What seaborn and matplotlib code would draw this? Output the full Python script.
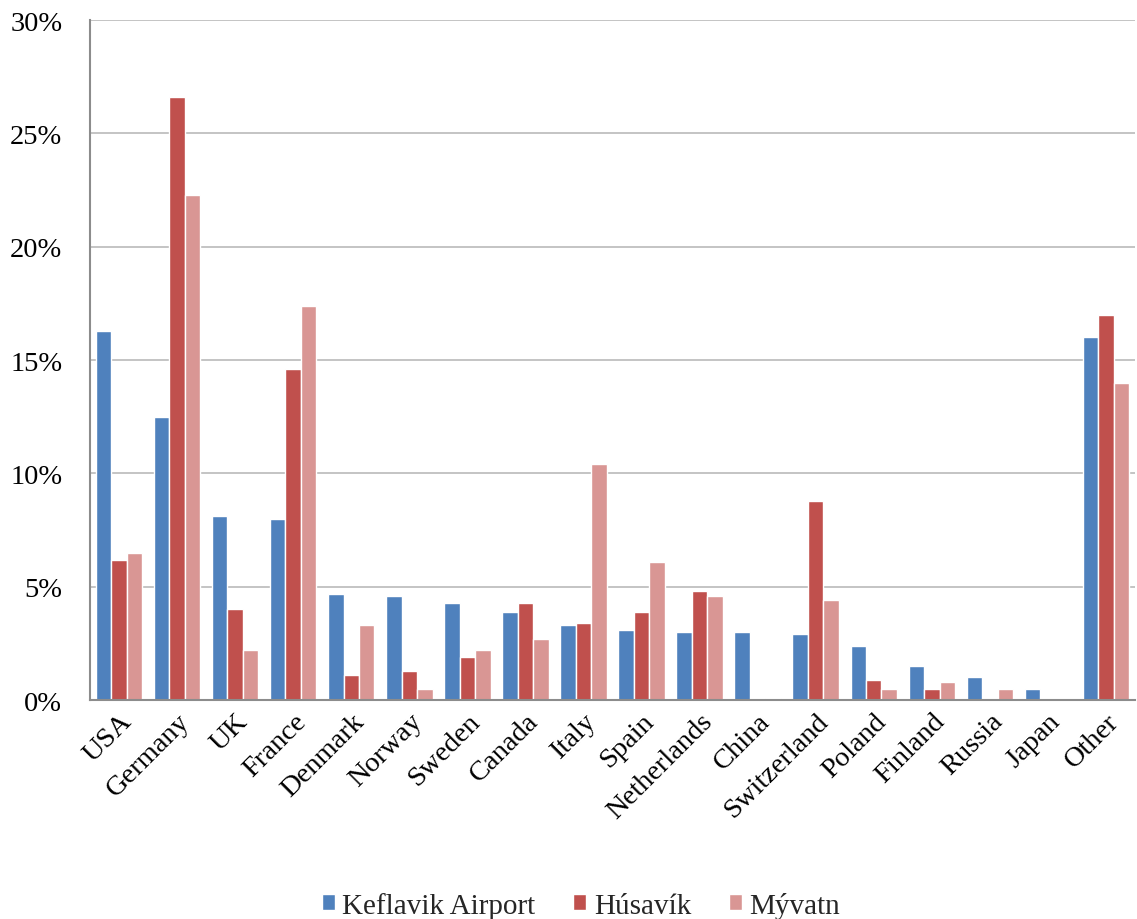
import matplotlib
matplotlib.use("Agg")
import matplotlib.pyplot as plt
import seaborn as sns
import pandas as pd
from matplotlib.ticker import FuncFormatter

countries = ["USA", "Germany", "UK", "France", "Denmark", "Norway", "Sweden",
             "Canada", "Italy", "Spain", "Netherlands", "China", "Switzerland",
             "Poland", "Finland", "Russia", "Japan", "Other"]
sites = ["Keflavik Airport", "Húsavík", "Mývatn"]

keflavik = [16.3, 12.5, 8.1, 8.0, 4.7, 4.6, 4.3, 3.9, 3.3, 3.1, 3.0, 3.0,
            2.9, 2.4, 1.5, 1.0, 0.5, 16.0]
husavik = [6.2, 26.6, 4.0, 14.6, 1.1, 1.3, 1.9, 4.3, 3.4, 3.9, 4.8, 0.0,
           8.8, 0.9, 0.5, 0.0, 0.0, 17.0]
myvatn = [6.5, 22.3, 2.2, 17.4, 3.3, 0.5, 2.2, 2.7, 10.4, 6.1, 4.6, 0.1,
          4.4, 0.5, 0.8, 0.5, 0.0, 14.0]

colors = ["#4F81BD", "#C0504D", "#D99694"]

df = pd.DataFrame({
    "Country": countries * 3,
    "Site": [s for s in sites for _ in countries],
    "Share": keflavik + husavik + myvatn,
})

sns.set_style("white")
plt.rcParams["font.family"] = ["Liberation Serif", "DejaVu Serif"]

fig = plt.figure(figsize=(11.37, 9.2), dpi=100)
ax = fig.add_axes([0.0792, 0.238, 0.919, 0.739])

sns.barplot(data=df, x="Country", y="Share", hue="Site", order=countries,
            hue_order=sites, palette=colors, width=0.8, ax=ax,
            edgecolor="white", linewidth=1.0, saturation=1, errorbar=None)

ax.set_ylim(0, 30)
ax.set_yticks(range(0, 31, 5))
ax.yaxis.set_major_formatter(FuncFormatter(lambda v, _: f"{v:.0f}%"))
ax.set_xlim(-0.5, len(countries) - 0.5)
ax.grid(axis="y", color="#BFBFBF", linewidth=1.3)
ax.set_axisbelow(True)
ax.set_xlabel("")
ax.set_ylabel("")

for side in ["top", "right"]:
    ax.spines[side].set_visible(False)
for side in ["left", "bottom"]:
    ax.spines[side].set_color("#8C8C8C")
    ax.spines[side].set_linewidth(1.5)

ax.tick_params(axis="both", length=0, labelsize=20.5, colors="black")
ax.tick_params(axis="y", pad=20)
plt.setp(ax.get_xticklabels(), rotation=45, ha="right", rotation_mode="anchor")
ax.tick_params(axis="x", pad=6)

handles, labels = ax.get_legend_handles_labels()
ax.get_legend().remove()
fig.legend(handles, labels, loc="lower center", ncol=3, frameon=False,
           fontsize=21, handlelength=0.45, handleheight=0.45,
           handletextpad=0.25, columnspacing=1.3,
           bbox_to_anchor=(0.511, -0.028))

fig.savefig("out.png", dpi=100)
